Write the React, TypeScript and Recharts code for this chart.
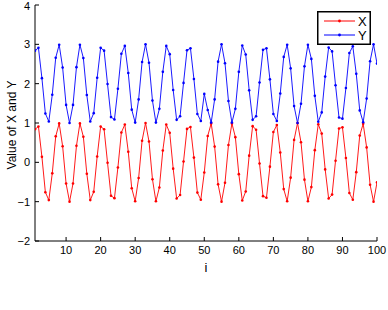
import { LineChart, Line, XAxis, YAxis, Legend } from 'recharts';

// values, index i = 1..100
const seriesX = [
    0.84, 0.91, 0.14, -0.76, -0.96, -0.28, 0.66, 0.99, 0.41, -0.54,
    -1.00, -0.54, 0.42, 0.99, 0.65, -0.29, -0.96, -0.75, 0.15, 0.91,
    0.84, -0.01, -0.85, -0.91, -0.13, 0.76, 0.96, 0.27, -0.66, -0.99,
    -0.40, 0.55, 1.00, 0.53, -0.43, -0.99, -0.64, 0.30, 0.96, 0.75,
    -0.16, -0.92, -0.83, 0.02, 0.85, 0.90, 0.12, -0.77, -0.95, -0.26,
    0.67, 0.99, 0.40, -0.56, -1.00, -0.52, 0.44, 0.99, 0.64, -0.30,
    -0.97, -0.74, 0.17, 0.92, 0.83, -0.03, -0.86, -0.90, -0.11, 0.77,
    0.95, 0.25, -0.68, -0.99, -0.39, 0.57, 1.00, 0.51, -0.44, -0.99,
    -0.63, 0.31, 0.97, 0.73, -0.18, -0.92, -0.82, 0.04, 0.86, 0.89,
    0.11, -0.78, -0.95, -0.25, 0.68, 0.98, 0.38, -0.57, -1.00, -0.51,
];

const seriesY = [
    2.84, 2.91, 2.14, 1.24, 1.04, 1.72, 2.66, 2.99, 2.41, 1.46,
    1.00, 1.46, 2.42, 2.99, 2.65, 1.71, 1.04, 1.25, 2.15, 2.91,
    2.84, 1.99, 1.15, 1.09, 1.87, 2.76, 2.96, 2.27, 1.34, 1.01,
    1.60, 2.55, 3.00, 2.53, 1.57, 1.01, 1.36, 2.30, 2.96, 2.75,
    1.84, 1.08, 1.17, 2.02, 2.85, 2.90, 2.12, 1.23, 1.05, 1.74,
    1.33, 1.01, 1.60, 2.56, 3.00, 2.52, 1.56, 1.01, 1.36, 2.30,
    2.97, 2.74, 1.83, 1.08, 1.17, 2.03, 2.86, 2.90, 2.11, 1.23,
    1.05, 1.75, 2.68, 2.99, 2.39, 1.43, 1.00, 1.49, 2.44, 2.99,
    2.63, 1.69, 1.03, 1.27, 2.18, 2.92, 2.82, 1.96, 1.14, 1.11,
    1.89, 2.78, 2.95, 2.25, 1.32, 1.02, 1.62, 2.57, 3.00, 2.51,
];

const xTicks = [10, 20, 30, 40, 50, 60, 70, 80, 90, 100];
const yTicks = [-2, -1, 0, 1, 2, 3, 4];

const data = seriesX.map((v, idx) => ({
    i: idx + 1,
    x: v,
    y: seriesY[idx],
}));

const font = '"Liberation Sans", Arial, Helvetica, sans-serif';
const RED = '#ff0000';
const BLUE = '#0000ff';

const minus = (v: number) => String(v).replace('-', '\u2212');

const LegendBox = () => (
    <svg width={54} height={34} style={{ display: 'block' }}>
        <rect x={0.75} y={0.75} width={52.5} height={32.5} fill="#fff" stroke="#000" strokeWidth={1.5} />
        <line x1={7} y1={10} x2={38} y2={10} stroke={RED} strokeWidth={1} />
        <circle cx={22.5} cy={10} r={1.4} fill={RED} />
        <text x={41} y={14.5} fontSize={13} fontFamily={font} fill="#000">X</text>
        <line x1={7} y1={24} x2={38} y2={24} stroke={BLUE} strokeWidth={1} />
        <circle cx={22.5} cy={24} r={1.4} fill={BLUE} />
        <text x={41} y={28.5} fontSize={13} fontFamily={font} fill="#000">Y</text>
    </svg>
);

const App = () => {
    return (
        <div style={{ position: 'absolute', left: 0, top: 0, width: 388, height: 310, background: '#fff' }}>
            <LineChart
                width={388}
                height={310}
                data={data}
                margin={{ top: 5, right: 11, bottom: 0, left: 0 }}
                style={{ fontFamily: font }}
            >
                <XAxis
                    xAxisId="b"
                    dataKey="i"
                    type="number"
                    domain={[1, 100]}
                    ticks={xTicks}
                    allowDataOverflow
                    height={35}
                    tickSize={-4}
                    tickMargin={9}
                    stroke="#000"
                    tick={{ fill: '#000', fontSize: 11 }}
                    label={{ value: 'i', position: 'insideBottom', offset: 4, fontSize: 13, fill: '#000' }}
                />
                <XAxis
                    xAxisId="t"
                    orientation="top"
                    dataKey="i"
                    type="number"
                    domain={[1, 100]}
                    ticks={xTicks}
                    allowDataOverflow
                    height={0}
                    tickSize={-4}
                    stroke="#000"
                    tickFormatter={() => ''}
                />
                <YAxis
                    yAxisId="l"
                    type="number"
                    domain={[-2, 4]}
                    ticks={yTicks}
                    width={35}
                    tickSize={-4}
                    tickMargin={9}
                    stroke="#000"
                    tick={{ fill: '#000', fontSize: 11 }}
                    tickFormatter={minus}
                    label={{ value: 'Value of X and Y', angle: -90, position: 'insideLeft', offset: 0, dx: 12, dy: 2, fontSize: 12, fill: '#000', style: { textAnchor: 'middle' } }}
                />
                <YAxis
                    yAxisId="r"
                    orientation="right"
                    type="number"
                    domain={[-2, 4]}
                    ticks={yTicks}
                    width={0}
                    tickSize={-4}
                    stroke="#000"
                    tickFormatter={() => ''}
                />
                <Legend
                    content={() => <LegendBox />}
                    wrapperStyle={{ position: 'absolute', top: 11, left: 317, width: 54, height: 34 }}
                />
                <Line
                    xAxisId="b"
                    yAxisId="l"
                    type="linear"
                    dataKey="x"
                    name="X"
                    stroke={RED}
                    strokeWidth={0.9}
                    dot={{ r: 1.3, fill: RED, stroke: 'none' }}
                    activeDot={false}
                    isAnimationActive={false}
                />
                <Line
                    xAxisId="b"
                    yAxisId="l"
                    type="linear"
                    dataKey="y"
                    name="Y"
                    stroke={BLUE}
                    strokeWidth={0.9}
                    dot={{ r: 1.3, fill: BLUE, stroke: 'none' }}
                    activeDot={false}
                    isAnimationActive={false}
                />
            </LineChart>
        </div>
    );
};

export default App;
